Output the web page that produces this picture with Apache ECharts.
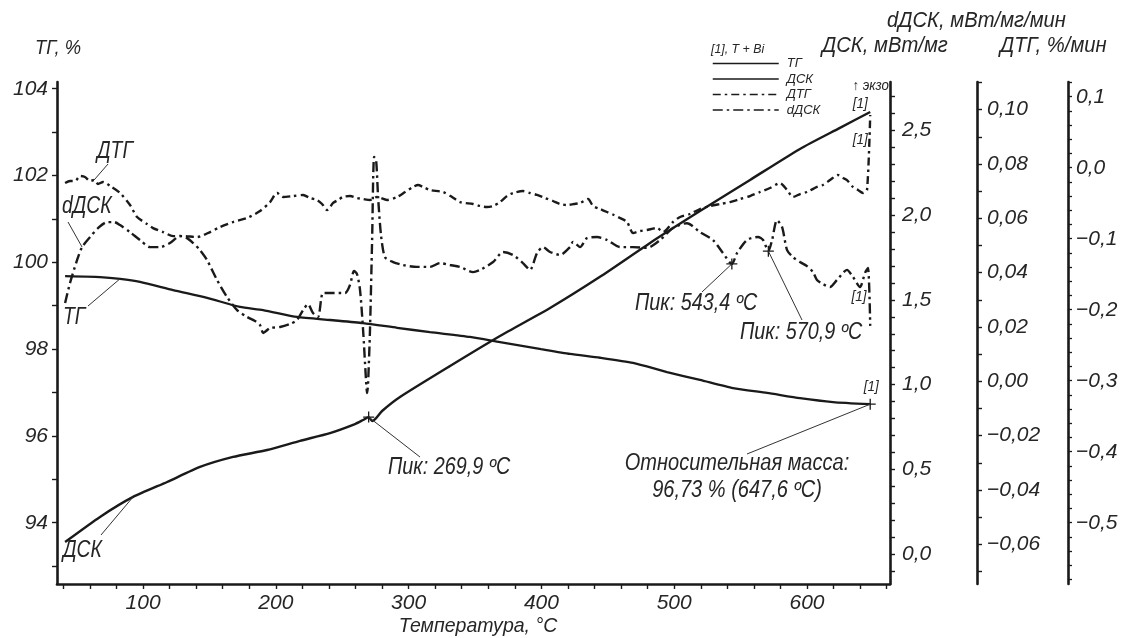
<!DOCTYPE html>
<html>
<head>
<meta charset="utf-8">
<script src="https://cdn.jsdelivr.net/npm/echarts@6/dist/echarts.min.js"></script>
<style>
html,body{margin:0;padding:0;background:#fff}
#chart{width:1123px;height:638px}
</style>
</head>
<body>
<div id="chart"></div>
<script>
// Thermal analysis of T + Bi: TG, DSC, DTG and dDSC against temperature

// ТГ, % (left axis)
const tgT = [41.3, 67.6, 82.7, 97.7, 122.6, 148.2, 173.0, 190.4, 216.0, 240.8, 265.7, 291.3, 316.1, 346.2, 368.8, 399.7, 421.5, 444.1, 469.0, 494.6, 519.4, 544.3, 569.9, 594.7, 619.6, 647.6];
const tgV = [99.68, 99.66, 99.62, 99.55, 99.36, 99.18, 98.97, 98.90, 98.74, 98.67, 98.60, 98.49, 98.39, 98.28, 98.16, 98.00, 97.89, 97.80, 97.68, 97.47, 97.29, 97.10, 96.99, 96.87, 96.78, 96.73];

// ДСК, мВт/мг
const dscT = [41.3, 67.6, 92.5, 118.1, 142.9, 167.8, 193.4, 218.2, 240.8, 259.6, 265.7, 269.9, 272.5, 275.5, 280.0, 293.5, 331.2, 368.8, 406.5, 444.1, 481.8, 519.4, 557.1, 594.7, 624.8, 647.6];
const dscV = [0.071, 0.219, 0.337, 0.425, 0.514, 0.573, 0.614, 0.668, 0.714, 0.767, 0.791, 0.808, 0.785, 0.802, 0.844, 0.927, 1.110, 1.287, 1.452, 1.636, 1.836, 2.024, 2.208, 2.391, 2.515, 2.609];

// ДТГ, %/мин
const dtgT = [41.3, 45.0, 48.8, 52.6, 56.3, 60.1, 63.1, 66.1, 69.9, 75.2, 82.7, 90.2, 95.5, 103.0, 107.5, 115.1, 122.6, 130.1, 140.7, 150.5, 158.0, 167.8, 178.3, 188.1, 195.6, 200.9, 205.4, 213.0, 220.5, 225.8, 231.0, 234.8, 238.6, 243.1, 246.8, 250.6, 255.9, 261.1, 265.7, 270.9, 276.2, 283.7, 291.3, 297.3, 303.3, 307.1, 310.8, 316.1, 325.9, 332.7, 338.7, 348.5, 353.8, 359.0, 363.6, 368.8, 374.1, 378.6, 386.1, 391.4, 396.7, 402.7, 408.7, 414.0, 419.3, 424.5, 429.1, 435.1, 438.9, 444.1, 449.4, 454.7, 459.2, 464.5, 469.0, 474.2, 479.5, 487.0, 491.6, 499.1, 504.4, 511.9, 519.4, 527.0, 534.5, 542.0, 549.5, 557.1, 564.6, 572.1, 579.7, 585.0, 589.5, 594.7, 600.0, 607.5, 612.0, 617.3, 623.3, 627.1, 630.1, 634.6, 638.4, 642.2, 645.2, 647.6];
const dtgV = [-0.0216, -0.0187, -0.0187, -0.0117, -0.0131, -0.0187, -0.0174, -0.0229, -0.0201, -0.0258, -0.0356, -0.0526, -0.0694, -0.0793, -0.0850, -0.0906, -0.0963, -0.0963, -0.0976, -0.0906, -0.0835, -0.0765, -0.0709, -0.0610, -0.0484, -0.0356, -0.0412, -0.0399, -0.0384, -0.0427, -0.0455, -0.0511, -0.0596, -0.0497, -0.0455, -0.0412, -0.0399, -0.0427, -0.0441, -0.0455, -0.0412, -0.0455, -0.0412, -0.0342, -0.0271, -0.0244, -0.0271, -0.0314, -0.0342, -0.0412, -0.0484, -0.0511, -0.0539, -0.0554, -0.0539, -0.0484, -0.0399, -0.0356, -0.0329, -0.0356, -0.0384, -0.0427, -0.0469, -0.0511, -0.0526, -0.0511, -0.0497, -0.0441, -0.0539, -0.0582, -0.0624, -0.0666, -0.0709, -0.0765, -0.0920, -0.0892, -0.0877, -0.0849, -0.0905, -0.0765, -0.0694, -0.0652, -0.0582, -0.0539, -0.0511, -0.0484, -0.0441, -0.0399, -0.0342, -0.0286, -0.0216, -0.0314, -0.0412, -0.0371, -0.0342, -0.0271, -0.0244, -0.0174, -0.0103, -0.0145, -0.0174, -0.0271, -0.0314, -0.0356, -0.0314, 0.0742];

// dДСК, мВт/мг/мин
const ddscT = [41.3, 45.0, 50.3, 54.1, 60.1, 66.1, 72.9, 78.2, 82.7, 90.2, 97.7, 105.3, 112.8, 120.3, 127.9, 133.1, 137.7, 142.9, 148.2, 155.7, 163.3, 170.8, 178.3, 184.3, 188.1, 190.4, 192.6, 195.6, 203.2, 210.7, 216.0, 220.5, 224.2, 228.0, 231.8, 235.5, 240.8, 252.1, 255.8, 258.9, 261.1, 263.4, 265.7, 267.9, 268.7, 269.4, 270.9, 272.5, 274.0, 275.5, 277.0, 279.2, 282.2, 288.3, 295.8, 306.3, 316.1, 323.6, 331.2, 338.7, 348.5, 353.8, 363.6, 371.1, 378.6, 386.1, 391.4, 396.7, 401.2, 406.5, 414.0, 421.5, 423.8, 429.1, 434.3, 441.9, 449.4, 459.2, 469.0, 479.5, 489.3, 499.1, 509.6, 519.4, 529.2, 536.7, 543.4, 547.3, 554.8, 563.1, 566.9, 570.9, 573.7, 577.4, 581.2, 585.0, 589.5, 594.7, 600.0, 604.5, 607.5, 612.0, 617.3, 622.6, 630.1, 634.6, 639.9, 643.7, 645.9, 647.6];
const ddscV = [0.0288, 0.0362, 0.0446, 0.0494, 0.0531, 0.0564, 0.0586, 0.0586, 0.0575, 0.0549, 0.0520, 0.0494, 0.0494, 0.0509, 0.0535, 0.0527, 0.0509, 0.0483, 0.0446, 0.0373, 0.0310, 0.0262, 0.0237, 0.0222, 0.0207, 0.0178, 0.0185, 0.0196, 0.0200, 0.0211, 0.0226, 0.0262, 0.0284, 0.0251, 0.0237, 0.0325, 0.0325, 0.0325, 0.0354, 0.0406, 0.0395, 0.0336, 0.0189, 0.0005, -0.0043, -0.0013, 0.0189, 0.0520, 0.0826, 0.0815, 0.0678, 0.0538, 0.0457, 0.0439, 0.0428, 0.0421, 0.0421, 0.0435, 0.0428, 0.0421, 0.0402, 0.0410, 0.0439, 0.0476, 0.0465, 0.0435, 0.0410, 0.0472, 0.0494, 0.0476, 0.0465, 0.0494, 0.0513, 0.0494, 0.0527, 0.0531, 0.0520, 0.0494, 0.0494, 0.0491, 0.0520, 0.0564, 0.0582, 0.0549, 0.0520, 0.0472, 0.0432, 0.0472, 0.0520, 0.0531, 0.0520, 0.0479, 0.0520, 0.0593, 0.0568, 0.0483, 0.0457, 0.0439, 0.0424, 0.0402, 0.0373, 0.0358, 0.0347, 0.0373, 0.0410, 0.0384, 0.0347, 0.0399, 0.0417, 0.0204];

// Marked points
const dscPeakT = 269.9;
const ddscPeaksT = [543.4, 570.9];
const tgEndT = 647.6;

// Tick labels
const xLabels = [100, 200, 300, 400, 500, 600];
const tgLabels = [94, 96, 98, 100, 102, 104];
const dscLabels = [0, 0.5, 1.0, 1.5, 2.0, 2.5];
const ddscLabels = [-0.06, -0.04, -0.02, 0, 0.02, 0.04, 0.06, 0.08, 0.10];
const dtgLabels = [-0.5, -0.4, -0.3, -0.2, -0.1, 0, 0.1];

const FONT = "'Liberation Sans',Arial,sans-serif";
const INK = '#1a1a1a';
const TXT = '#262626';

function steps(from, to, n, div) { // minor tick positions: from/div .. to/div
  const out = [];
  for (let i = from; i <= to; i += n) out.push(i / div);
  return out;
}
function fmt(dec) {
  return function (v) {
    let r = Math.round(v * 1e6) / 1e6;
    if (Math.abs(r) < 1e-9) r = 0;
    const s = Math.abs(r).toFixed(dec).replace('.', ',');
    return r < 0 ? '\u2212' + s : s;
  };
}
function pairs(xs, ys) { return xs.map((x, i) => [x, ys[i]]); }
function valAt(xs, ys, x) { return ys[xs.indexOf(x)]; }

const cross = {
  symbol: 'path://M5,0L5,10M0,5L10,5',
  symbolSize: 11,
  itemStyle: { color: 'none', borderColor: INK, borderWidth: 1.3 },
  label: { show: false },
  animation: false
};

const tickStyle = { color: INK, width: 1.4 };
const labelStyle = { color: TXT, fontFamily: FONT, fontStyle: 'italic', fontSize: 21 };

function yAx(opts) {
  return Object.assign({
    type: 'value',
    splitLine: { show: false },
    axisLine: { show: true, onZero: false, lineStyle: { color: INK, width: 2.6 } }
  }, opts);
}

const chart = echarts.init(document.getElementById('chart'), null, { renderer: 'canvas' });

chart.setOption({
  backgroundColor: '#fff',
  animation: false,
  grid: { left: 57, right: 233, top: 82, bottom: 54, containLabel: false },
  legend: {
    data: ['ТГ', 'ДСК', 'ДТГ', 'dДСК'],
    orient: 'vertical',
    left: 712, top: 57,
    itemWidth: 66, itemHeight: 11, itemGap: 2.5,
    padding: 0,
    textStyle: { color: TXT, fontFamily: FONT, fontStyle: 'italic', fontSize: 13, padding: [0, 0, 0, 3] },
    itemStyle: { color: 'rgba(0,0,0,0)', borderColor: 'rgba(0,0,0,0)', borderWidth: 0, opacity: 0 },
    lineStyle: { width: 1.5 }
  },
  xAxis: {
    type: 'value', min: 35.2, max: 662.5,
    splitLine: { show: false },
    axisLine: { show: true, onZero: false, lineStyle: { color: INK, width: 2.6 } },
    axisTick: { show: true, length: 5, customValues: steps(40, 660, 20, 1), lineStyle: tickStyle },
    axisLabel: Object.assign({ customValues: xLabels, margin: 9 }, labelStyle)
  },
  yAxis: [
    yAx({ position: 'left', min: 92.587, max: 104.154,
      axisTick: { show: true, length: 5, customValues: steps(93, 104, 1, 1), lineStyle: tickStyle },
      axisLabel: Object.assign({ customValues: tgLabels, margin: 9 }, labelStyle) }),
    yAx({ position: 'right', offset: 0, min: -0.177, max: 2.786,
      axisTick: { show: true, length: 5, customValues: steps(-1, 27, 1, 10), lineStyle: tickStyle },
      axisLabel: Object.assign({ customValues: dscLabels, formatter: fmt(1), margin: 12 }, labelStyle) }),
    yAx({ position: 'right', offset: 87, min: -0.0746, max: 0.11016,
      axisTick: { show: true, length: 5, customValues: steps(-7, 11, 1, 100), lineStyle: tickStyle },
      axisLabel: Object.assign({ customValues: ddscLabels, formatter: fmt(2), margin: 10 }, labelStyle) }),
    yAx({ position: 'right', offset: 178, min: -0.5863, max: 0.1207,
      axisTick: { show: true, length: 4, customValues: steps(-29, 6, 1, 50), lineStyle: { color: INK, width: 1.3 } },
      axisLabel: Object.assign({ customValues: dtgLabels, formatter: fmt(1), margin: 8 }, labelStyle) })
  ],
  series: [
    {
      name: 'ТГ', type: 'line', yAxisIndex: 0, data: pairs(tgT, tgV),
      symbol: 'none', smooth: 0.2, lineStyle: { color: INK, width: 2.3 },
      itemStyle: { color: INK },
      markPoint: Object.assign({ data: [{ coord: [tgEndT, valAt(tgT, tgV, tgEndT)] }] }, cross)
    },
    {
      name: 'ДСК', type: 'line', yAxisIndex: 1, data: pairs(dscT, dscV),
      symbol: 'none', smooth: 0.2, lineStyle: { color: INK, width: 2.4 },
      itemStyle: { color: INK },
      markPoint: Object.assign({ data: [{ coord: [dscPeakT, valAt(dscT, dscV, dscPeakT)] }] }, cross)
    },
    {
      name: 'ДТГ', type: 'line', yAxisIndex: 3, data: pairs(dtgT, dtgV),
      symbol: 'none', smooth: 0.25, lineStyle: { color: INK, width: 2.4, type: [8, 4, 2.5, 4] },
      itemStyle: { color: INK }
    },
    {
      name: 'dДСК', type: 'line', yAxisIndex: 2, data: pairs(ddscT, ddscV),
      symbol: 'none', smooth: 0.25, lineStyle: { color: INK, width: 2.4, type: [10, 4, 2.5, 4] },
      itemStyle: { color: INK },
      markPoint: Object.assign({ data: ddscPeaksT.map(t => ({ coord: [t, valAt(ddscT, ddscV, t)] })) }, cross)
    }
  ]
});

// Annotations: captions, leader lines to the curves, axis titles
function px(axis, t, v) { return chart.convertToPixel({ xAxisIndex: 0, yAxisIndex: axis }, [t, v]); }
function text(x, y, s, size, align, sx) {
  return {
    type: 'text', x: x, y: y, z: 50, scaleX: sx || 1,
    style: { text: s, fill: TXT, font: 'italic ' + size + 'px ' + FONT, align: align || 'left', verticalAlign: 'middle' }
  };
}
function lead(x1, y1, p) {
  return { type: 'line', z: 49, shape: { x1: x1, y1: y1, x2: p[0], y2: p[1] }, style: { stroke: '#333', lineWidth: 1 } };
}

const pDtg = px(3, 63.1, valAt(dtgT, dtgV, 63.1));
const pDdsc = px(2, 54.1, valAt(ddscT, ddscV, 54.1));
const pTg = px(0, 82.7, valAt(tgT, tgV, 82.7));
const pDsc = px(1, 92.5, valAt(dscT, dscV, 92.5));
const pPeak = px(1, dscPeakT, valAt(dscT, dscV, dscPeakT));
const pP1 = px(2, ddscPeaksT[0], valAt(ddscT, ddscV, ddscPeaksT[0]));
const pP2 = px(2, ddscPeaksT[1], valAt(ddscT, ddscV, ddscPeaksT[1]));
const pEnd = px(0, tgEndT, valAt(tgT, tgV, tgEndT));
const pDscEnd = px(1, 647.6, valAt(dscT, dscV, 647.6));
const pDtgEnd = px(3, 647.6, valAt(dtgT, dtgV, 647.6));

chart.setOption({ graphic: [
  // axis titles
  text(35, 48, 'ТГ, %', 20, 'left', 0.92),
  text(822, 46, 'ДСК, мВт/мг', 22, 'left', 0.92),
  text(887, 21, 'dДСК, мВт/мг/мин', 22, 'left', 0.92),
  text(1000, 46, 'ДТГ, %/мин', 22, 'left', 0.92),
  text(478, 626, 'Температура, °C', 21, 'center', 0.93),
  text(711, 49, '[1], T + Bi', 13, 'left', 0.95),
  text(889, 86, '↑ экзо', 14, 'right', 0.95),
  // curve captions
  text(97, 152, 'ДТГ', 23, 'left', 0.84), lead(108, 164, pDtg),
  text(62, 207, 'dДСК', 23, 'left', 0.84), lead(68, 222, pDdsc),
  text(63, 318, 'ТГ', 23, 'left', 0.84), lead(88, 306, pTg),
  text(63, 551, 'ДСК', 23, 'left', 0.84), lead(101, 535, pDsc),
  // peaks
  text(388, 468, 'Пик: 269,9 ºC', 23, 'left', 0.86), lead(420, 457, pPeak),
  text(635, 304, 'Пик: 543,4 ºC', 23, 'left', 0.86), lead(702, 292, pP1),
  text(740, 333, 'Пик: 570,9 ºC', 23, 'left', 0.86), lead(802, 320, pP2),
  text(737, 464, 'Относительная масса:', 23, 'center', 0.87),
  text(737, 491, '96,73 % (647,6 ºC)', 23, 'center', 0.87),
  lead(747, 454, pEnd),
  // end-of-run markers
  text(pEnd[0] + 1, pEnd[1] - 17, '[1]', 15, 'center', 0.9),
  text(pDscEnd[0] - 10, pDscEnd[1] - 8, '[1]', 15, 'center', 0.9),
  text(pDtgEnd[0] - 10, pDtgEnd[1] + 25, '[1]', 15, 'center', 0.9),
  text(859, 297, '[1]', 15, 'center', 0.9)
] });
</script>
</body>
</html>
